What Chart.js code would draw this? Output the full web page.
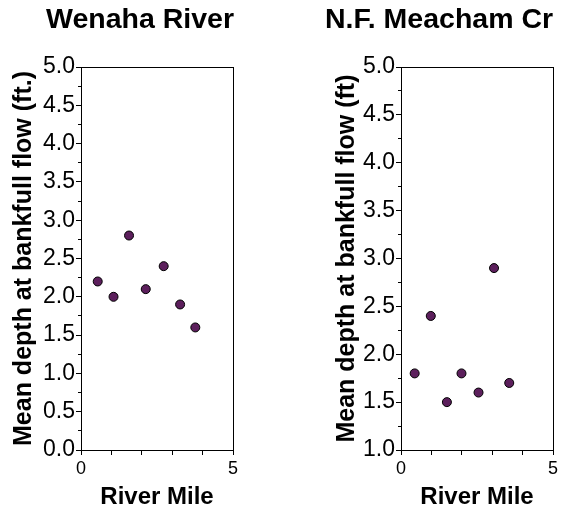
<!DOCTYPE html>
<html>
<head>
<meta charset="utf-8">
<script src="https://cdn.jsdelivr.net/npm/chart.js@4.4.1/dist/chart.umd.min.js"></script>
<style>
  body { margin: 0; background: #fff; }
  #wrap { position: relative; width: 568px; height: 514px; overflow: hidden; }
  canvas { position: absolute; top: 0; }
</style>
</head>
<body>
<div id="wrap">
  <canvas id="wenaha" width="280" height="514" style="left:0"></canvas>
  <canvas id="meacham" width="284" height="514" style="left:284px"></canvas>
</div>
<script>
// river mile vs mean depth at bankfull flow
var wenahaMile   = [0.55, 1.07, 1.58, 2.13, 2.72, 3.26, 3.76];
var wenahaDepth  = [2.2, 2.0, 2.8, 2.1, 2.4, 1.9, 1.6];
var meachamMile  = [0.45, 0.98, 1.51, 1.99, 2.55, 3.06, 3.56];
var meachamDepth = [1.8, 2.4, 1.5, 1.8, 1.6, 2.9, 1.7];

// only the ends of the mile axis carry a label
var mileLabels = [0, 5];

Chart.defaults.font.family = '"Liberation Sans", Arial, sans-serif';
Chart.defaults.color = '#000';

function points(xs, ys) {
    return xs.map(function (x, i) { return { x: x, y: ys[i] }; });
}

function makeChart(id, o) {
    return new Chart(document.getElementById(id), {
        type: 'scatter',
        data: {
            datasets: [{
                data: points(o.miles, o.depths),
                backgroundColor: '#5c1f5c',
                borderColor: '#000',
                borderWidth: 1,
                pointRadius: 4.5
            }]
        },
        options: {
            responsive: false,
            animation: false,
            layout: { padding: { left: o.padLeft, right: 0, top: 0, bottom: 0 } },
            plugins: {
                legend: { display: false },
                tooltip: { enabled: false },
                title: {
                    display: true,
                    text: o.title,
                    align: o.titleAlign,
                    color: '#000',
                    font: { size: 28.5, weight: 'bold' },
                    padding: { top: 3, bottom: 29.8 }
                }
            },
            scales: {
                x: {
                    type: 'linear', position: 'bottom', min: 0, max: 5,
                    grid: { drawOnChartArea: false, tickLength: 5, tickColor: '#000' },
                    border: { color: '#000' },
                    ticks: {
                        stepSize: 1, maxTicksLimit: 6, autoSkip: false, maxRotation: 0,
                        padding: 3, font: { size: 18 },
                        callback: function (v) { return mileLabels.indexOf(v) >= 0 ? String(v) : ''; }
                    },
                    title: { display: true, text: 'River Mile', font: { size: 24, weight: 'bold' }, padding: { top: 0, bottom: 2 } },
                    afterFit: function (s) { s.height = 64; }
                },
                x2: {
                    type: 'linear', position: 'top',
                    grid: { display: false }, ticks: { display: false },
                    border: { color: '#000' },
                    afterFit: function (s) { s.height = 0; }
                },
                y: {
                    type: 'linear', position: 'left', weight: 1, min: o.yMin, max: 5,
                    grid: { drawOnChartArea: false, tickLength: 5, tickColor: '#000' },
                    border: { color: '#000' },
                    ticks: {
                        stepSize: 0.5, padding: 1, font: { size: 23 },
                        callback: function (v) { return v.toFixed(1); }
                    },
                    title: { display: true, text: o.yTitle, font: { size: 25, weight: 'bold' }, padding: { top: o.yTitlePad, bottom: 0 } },
                    afterFit: function (s) { s.width = o.yWidth; }
                },
                yMinor: {
                    type: 'linear', position: 'left', weight: 0, min: o.yMin, max: 5,
                    grid: { drawOnChartArea: false, tickLength: 3, tickColor: '#000' },
                    border: { display: false },
                    ticks: { display: false, stepSize: 0.25, maxTicksLimit: 21 },
                    afterFit: function (s) { s.width = 0; }
                },
                y2: {
                    type: 'linear', position: 'right',
                    grid: { display: false }, ticks: { display: false },
                    border: { color: '#000' },
                    afterFit: function (s) { s.width = o.rightWidth; }
                }
            }
        }
    });
}

makeChart('wenaha', {
    title: 'Wenaha River', titleAlign: 'center',
    miles: wenahaMile, depths: wenahaDepth,
    yMin: 0, yTitle: 'Mean depth at bankfull flow (ft.)',
    padLeft: 0, yWidth: 81, yTitlePad: 9.3, rightWidth: 47
});

makeChart('meacham', {
    title: 'N.F. Meacham Cr', titleAlign: 'start',
    miles: meachamMile, depths: meachamDepth,
    yMin: 1, yTitle: 'Mean depth at bankfull flow (ft)',
    padLeft: 41, yWidth: 76, yTitlePad: 7.3, rightWidth: 15
});
</script>
</body>
</html>
